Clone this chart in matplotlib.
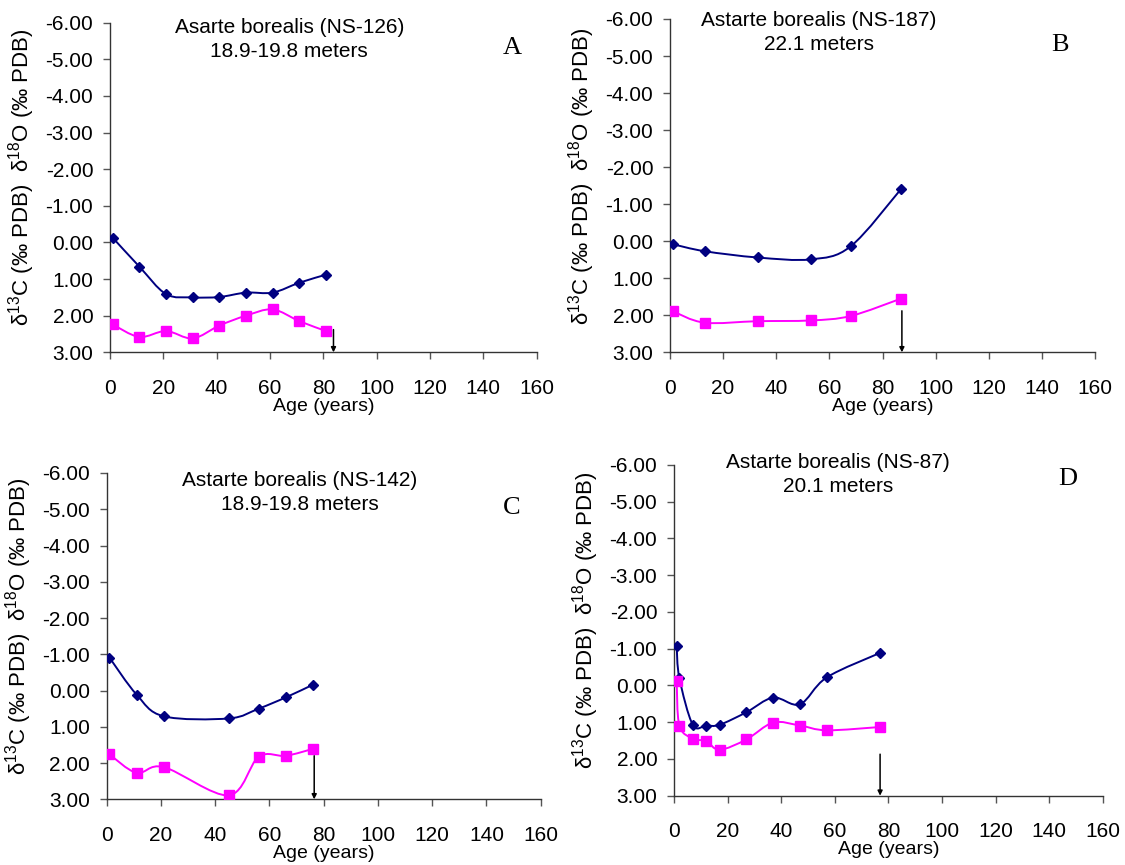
import matplotlib
matplotlib.use('Agg')
import matplotlib.pyplot as plt
from matplotlib.path import Path
from matplotlib.patches import PathPatch
from matplotlib.ticker import FormatStrFormatter, MultipleLocator
import numpy as np

plt.rcParams['font.family'] = ['Liberation Sans', 'DejaVu Sans']
plt.rcParams['mathtext.fontset'] = 'custom'
plt.rcParams['mathtext.rm'] = 'Liberation Sans'
plt.rcParams['mathtext.it'] = 'Liberation Sans:italic'

# data
age_a = [1, 11, 21, 31, 41, 51, 61, 71, 81]
o18_a = [-0.13, 0.66, 1.41, 1.50, 1.49, 1.37, 1.37, 1.10, 0.88]
c13_a = [2.24, 2.58, 2.42, 2.62, 2.27, 2.00, 1.83, 2.15, 2.42]

age_b = [1, 13, 33, 53, 68, 87]
o18_b = [0.08, 0.27, 0.44, 0.49, 0.14, -1.41]
c13_b = [1.89, 2.20, 2.16, 2.14, 2.02, 1.55]

age_c = [1, 11, 21, 45, 56, 66, 76]
o18_c = [-0.91, 0.11, 0.71, 0.77, 0.50, 0.19, -0.16]
c13_c = [1.76, 2.27, 2.11, 2.89, 1.83, 1.80, 1.61]

age_d = [1, 2, 7, 12, 17, 27, 37, 47, 57, 77]
o18_d = [-1.07, -0.20, 1.07, 1.09, 1.07, 0.73, 0.33, 0.51, -0.22, -0.89]
c13_d = [-0.11, 1.09, 1.45, 1.51, 1.75, 1.47, 1.01, 1.09, 1.22, 1.13]

titles = ['Asarte borealis (NS-126)\n18.9-19.8 meters',
          'Astarte borealis (NS-187)\n22.1 meters',
          'Astarte borealis (NS-142)\n18.9-19.8 meters',
          'Astarte borealis (NS-87)\n20.1 meters']
letters = ['A', 'B', 'C', 'D']
arrow_x = [83.8, 87.3, 76.5, 76.9]
arrow_top = [2.38, 1.88, 1.80, 1.87]

ylabel = u'\u03b4$^{13}$C (\u2030 PDB)  \u03b4$^{18}$O (\u2030 PDB)'

# axes boxes in pixels: left, top, right, bottom
W, H = 1125, 865
boxes = [(110, 22.7, 536.7, 352.3),
         (670, 19, 1095, 352.3),
         (106.7, 473, 540.7, 799.3),
         (674, 465, 1102.8, 795.7)]
title_pos = [(0.42, 0.949), (0.351, 0.96), (0.445, 0.94), (0.382, 0.971)]
letter_pos = [(0.942, 0.924), (0.918, 0.922), (0.934, 0.893), (0.919, 0.958)]
ylabel_off = [73, 73, 73, 73]


def smooth_path(x, y):
    # Excel-like smoothed line: bezier segments with catmull-rom tangents
    x = np.asarray(x, float)
    y = np.asarray(y, float)
    n = len(x)
    verts = [(x[0], y[0])]
    codes = [Path.MOVETO]
    for i in range(n - 1):
        i0 = max(i - 1, 0)
        i3 = min(i + 2, n - 1)
        c1 = (x[i] + (x[i + 1] - x[i0]) / 6.0, y[i] + (y[i + 1] - y[i0]) / 6.0)
        c2 = (x[i + 1] - (x[i3] - x[i]) / 6.0, y[i + 1] - (y[i3] - y[i]) / 6.0)
        verts += [c1, c2, (x[i + 1], y[i + 1])]
        codes += [Path.CURVE4] * 3
    return Path(verts, codes)


fig = plt.figure(figsize=(W / 100.0, H / 100.0), dpi=100)

series = [(age_a, o18_a, c13_a), (age_b, o18_b, c13_b),
          (age_c, o18_c, c13_c), (age_d, o18_d, c13_d)]

for k in range(4):
    l, t, r, b = boxes[k]
    ax = fig.add_axes([l / W, 1 - b / H, (r - l) / W, (b - t) / H])
    age, o18, c13 = series[k]

    ax.add_patch(PathPatch(smooth_path(age, o18), facecolor='none',
                           edgecolor='#000080', lw=1.4, zorder=2))
    ax.plot(age, o18, linestyle='none', marker='D', color='#000080',
            markersize=5.5, zorder=3)
    ax.add_patch(PathPatch(smooth_path(age, c13), facecolor='none',
                           edgecolor='#FF00FF', lw=1.4, zorder=2))
    ax.plot(age, c13, linestyle='none', marker='s', color='#FF00FF',
            markersize=6.5, zorder=3)

    ax.annotate('', xy=(arrow_x[k], 3.0), xytext=(arrow_x[k], arrow_top[k]),
                arrowprops=dict(arrowstyle='-|>', color='black', lw=1.1,
                                mutation_scale=7, shrinkA=0, shrinkB=0))

    ax.set_xlim(0, 160)
    ax.set_ylim(3, -6)
    ax.xaxis.set_major_locator(MultipleLocator(20))
    ax.yaxis.set_major_locator(MultipleLocator(1))
    ax.yaxis.set_major_formatter(FormatStrFormatter('%.2f'))
    for s in ['top', 'right']:
        ax.spines[s].set_visible(False)
    for s in ['left', 'bottom']:
        ax.spines[s].set_color('#333333')
        ax.spines[s].set_linewidth(1.0)
    ax.tick_params(axis='x', direction='out', length=5, width=1,
                   color='#555555', labelsize=15, pad=14)
    ax.tick_params(axis='y', direction='out', length=5, width=1,
                   color='#555555', labelsize=15, pad=7)

    ax.set_xlabel('Age (years)', fontsize=14, labelpad=0)
    ax.set_ylabel(ylabel, fontsize=16)
    ax.yaxis.set_label_coords(-float(ylabel_off[k]) / (r - l), 0.53)

    ax.text(title_pos[k][0], title_pos[k][1], titles[k], transform=ax.transAxes,
            ha='center', va='center', fontsize=15, linespacing=1.3)
    ax.text(letter_pos[k][0], letter_pos[k][1], letters[k], transform=ax.transAxes,
            ha='center', va='center', fontsize=19, family='Liberation Serif')

fig.savefig('out.png', dpi=100)
